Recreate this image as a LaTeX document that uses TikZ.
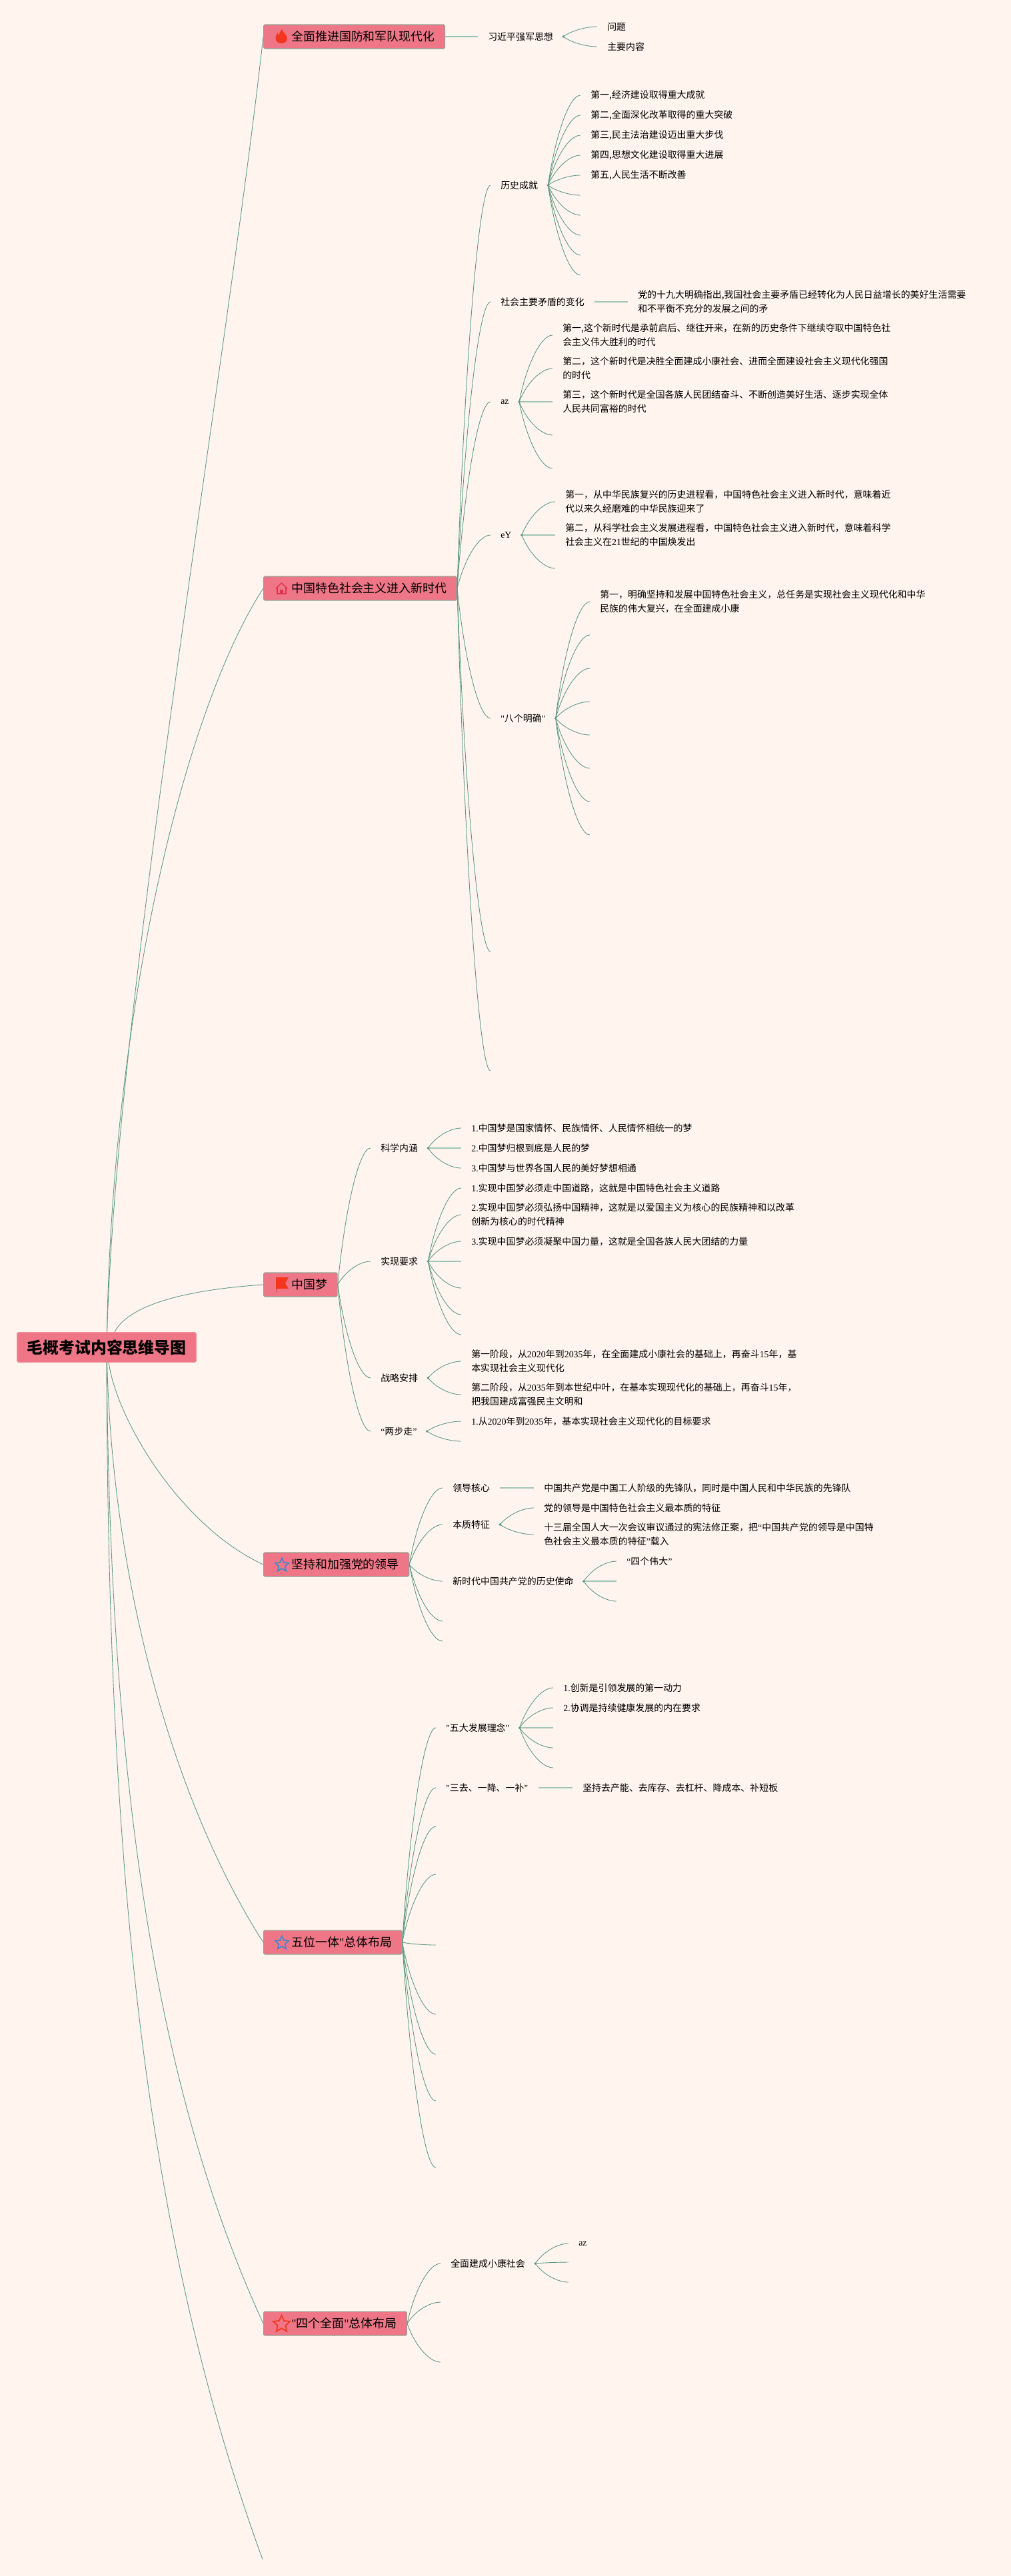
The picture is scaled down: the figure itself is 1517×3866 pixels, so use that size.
\documentclass[tikz,border=0pt]{standalone}
\usepackage{fontspec}
\setmainfont{Noto Sans CJK SC}
\newfontfamily\latfont{Liberation Serif}
\newcommand{\lat}[1]{{\latfont #1}}
\usetikzlibrary{calc, shapes.geometric}
\definecolor{pagebg}{HTML}{FFF4EE}
\definecolor{boxfill}{HTML}{EE7686}
\definecolor{boxline}{HTML}{8FA598}
\definecolor{linkcol}{HTML}{5C9A83}
\definecolor{flatcol}{HTML}{A2C6B6}
\definecolor{iconred}{HTML}{F4361E}
\definecolor{iconrose}{HTML}{E0334F}
\definecolor{iconblue}{HTML}{4A86C8}
\begin{document}
\begin{tikzpicture}[x = 0.02cm, y = -0.02cm,
  rootbox/.style = {draw = boxfill!80!white, line width = 0.6pt, fill = boxfill, rounded corners = 1.5pt, minimum height = 25.5pt, inner xsep = 8.5pt, inner ysep = 0pt, font = \fontsize{13.6}{16}\selectfont\bfseries},
  topic/.style = {draw = boxline, line width = 0.7pt, fill = boxfill, rounded corners = 1pt, anchor = west, minimum height = 20.4pt, inner xsep = 8.5pt, inner ysep = 0pt, font = \fontsize{10.2}{12}\selectfont, execute at begin node = \hspace*{15.3pt}},
  sub/.style = {anchor = west, inner xsep = 8.5pt, inner ysep = 1pt, align = left, font = \fontsize{7.94}{11.9}\selectfont},
  link/.style = {draw = linkcol, line width = 0.5pt, to path = {let \p1 = (\tikztostart), \p2 = (\tikztotarget) in .. controls ({\x1 + 0.22 * (\x2 - \x1)}, {\y1 + 0.55 * (\y2 - \y1)}) and ({\x1 + 0.65 * (\x2 - \x1)}, \y2) .. (\tikztotarget)}},
  flat/.style = {draw = flatcol, line width = 1.6pt},
  hubdot/.style = {fill = linkcol},
  staricon/.style = {star, star points = 5, star point ratio = 2.1, fill = none, inner sep = 0pt, line width = 1pt}]
\fill [pagebg] (0, 0) rectangle (1517, 3866);
\useasboundingbox (0, 0) rectangle (1517, 3866);

\node [rootbox] (root) at (160, 2022) {毛概考试内容思维导图};

\node [topic] (t1) at (395, 55) {全面推进国防和军队现代化};
\node [topic] (t2) at (395, 883) {中国特色社会主义进入新时代};
\node [topic] (t3) at (395, 1928) {中国梦};
\node [topic] (t4) at (395, 2348) {坚持和加强党的领导};
\node [topic] (t5) at (395, 2915) {五位一体\lat{"}总体布局};
\node [topic] (t6) at (395, 3487) {\lat{"}四个全面\lat{"}总体布局};
\coordinate (t7) at (394, 3841);

\draw [draw = linkcol, line width = 0.5pt] (root) .. controls (175, 1500) and (340, 550) .. (t1.west);
\draw [draw = linkcol, line width = 0.5pt] (root) .. controls (170, 1500) and (280, 1060) .. (t2.west);
\draw [draw = linkcol, line width = 0.5pt] (root) .. controls (195, 1955) and (290, 1935) .. (t3.west);
\draw [draw = linkcol, line width = 0.5pt] (root) .. controls (175, 2130) and (270, 2290) .. (t4.west);
\draw [draw = linkcol, line width = 0.5pt] (root) .. controls (170, 2400) and (270, 2720) .. (t5.west);
\draw [draw = linkcol, line width = 0.5pt] (root) .. controls (165, 2700) and (240, 3150) .. (t6.west);
\draw [draw = linkcol, line width = 0.5pt] (root) .. controls (162, 2800) and (215, 3350) .. (t7);

% icons
\fill [color = iconred] (423, 44) .. controls (424, 49) and (431, 52) .. (431, 58) .. controls (431, 62) and (427, 65) .. (422, 65) .. controls (417, 65) and (413.5, 62) .. (413.5, 57) .. controls (413.5, 54) and (415, 51) .. (417, 49) .. controls (417, 52) and (418, 53) .. (419, 53) .. controls (419, 50) and (420, 47) .. (423, 44);
\draw [color = iconrose, line width = 0.8pt] (414, 883) -- (422.5, 875) -- (431, 883);
\draw [color = iconrose, line width = 0.8pt] (416, 881) -- (416, 891) -- (429, 891) -- (429, 881);
\fill [color = iconrose] (420, 885) rectangle (425, 891);
\fill [color = iconred] (414, 1917) -- (433, 1917) -- (428, 1926) -- (433, 1934) -- (414, 1934) -- cycle;
\draw [color = iconred, line width = 0.5pt] (414, 1917) -- (414, 1939);
\node [staricon, draw = iconblue, minimum size = 12pt] (i4) at (423, 2349) {};
\node [staricon, draw = iconblue, minimum size = 12pt] (i5) at (423, 2916) {};
\node [staricon, draw = iconred, minimum size = 15pt] (i6) at (422.5, 3488) {};

% t1
\node [sub] (qiang) at (717, 55) {习近平强军思想};
\node [sub] (wenti) at (896, 40) {问题};
\node [sub] (neirong) at (896, 70) {主要内容};
\draw [flat] (t1.east) -- (qiang.west);
\draw [link] (qiang.east) to (wenti.west);
\draw [link] (qiang.east) to (neirong.west);
\fill [hubdot] (qiang.east) circle (1.1pt);

% t2
\node [sub] (hist) at (736, 278) {历史成就};
\node [sub] (maodun) at (736, 453) {社会主要矛盾的变化};
\node [sub] (az) at (736, 603) {\lat{az}};
\node [sub] (ey) at (736, 803) {\lat{eY}};
\node [sub] (bage) at (736, 1078) {\lat{"}八个明确\lat{"}};
\coordinate (t2g) at (736, 1428);
\coordinate (t2h) at (736, 1607);
\draw [link] (t2.east) to (hist.west);
\draw [link] (t2.east) to (maodun.west);
\draw [link] (t2.east) to (az.west);
\draw [link] (t2.east) to (ey.west);
\draw [link] (t2.east) to (bage.west);
\draw [link] (t2.east) to (t2g);
\draw [link] (t2.east) to (t2h);

\node [sub] (hist1) at (871, 143) {第一,经济建设取得重大成就};
\node [sub] (hist2) at (871, 173) {第二,全面深化改革取得的重大突破};
\node [sub] (hist3) at (871, 203) {第三,民主法治建设迈出重大步伐};
\node [sub] (hist4) at (871, 233) {第四,思想文化建设取得重大进展};
\node [sub] (hist5) at (871, 263) {第五,人民生活不断改善};
\coordinate (hist6) at (871, 293);
\coordinate (hist7) at (871, 323);
\coordinate (hist8) at (871, 353);
\coordinate (hist9) at (871, 383);
\coordinate (hist10) at (871, 413);
\draw [link] (hist.east) to (hist1.west);
\draw [link] (hist.east) to (hist2.west);
\draw [link] (hist.east) to (hist3.west);
\draw [link] (hist.east) to (hist4.west);
\draw [link] (hist.east) to (hist5.west);
\draw [link] (hist.east) to (hist6);
\draw [link] (hist.east) to (hist7);
\draw [link] (hist.east) to (hist8);
\draw [link] (hist.east) to (hist9);
\draw [link] (hist.east) to (hist10);
\fill [hubdot] (hist.east) circle (1.1pt);

\node [sub] (maodun1) at (942, 453) {党的十九大明确指出,我国社会主要矛盾已经转化为人民日益增长的美好生活需要\\和不平衡不充分的发展之间的矛};
\draw [flat] (maodun.east) -- (maodun1.west);

\node [sub] (az1) at (829, 503) {第一,这个新时代是承前启后、继往开来，在新的历史条件下继续夺取中国特色社\\会主义伟大胜利的时代};
\node [sub] (az2) at (829, 553) {第二，这个新时代是决胜全面建成小康社会、进而全面建设社会主义现代化强国\\的时代};
\node [sub] (az3) at (829, 603) {第三，这个新时代是全国各族人民团结奋斗、不断创造美好生活、逐步实现全体\\人民共同富裕的时代};
\coordinate (az4) at (829, 653);
\coordinate (az5) at (829, 703);
\draw [link] (az.east) to (az1.west);
\draw [link] (az.east) to (az2.west);
\draw [flat] (az.east) -- (az3.west);
\draw [link] (az.east) to (az4);
\draw [link] (az.east) to (az5);
\fill [hubdot] (az.east) circle (1.1pt);

\node [sub] (ey1) at (833, 753) {第一，从中华民族复兴的历史进程看，中国特色社会主义进入新时代，意味着近\\代以来久经磨难的中华民族迎来了};
\node [sub] (ey2) at (833, 803) {第二，从科学社会主义发展进程看，中国特色社会主义进入新时代，意味着科学\\社会主义在\lat{21}世纪的中国焕发出};
\coordinate (ey3) at (833, 853);
\draw [link] (ey.east) to (ey1.west);
\draw [flat] (ey.east) -- (ey2.west);
\draw [link] (ey.east) to (ey3);
\fill [hubdot] (ey.east) circle (1.1pt);

\node [sub] (bage1) at (885, 903) {第一，明确坚持和发展中国特色社会主义，总任务是实现社会主义现代化和中华\\民族的伟大复兴，在全面建成小康};
\coordinate (bage2) at (885, 953);
\coordinate (bage3) at (885, 1003);
\coordinate (bage4) at (885, 1053);
\coordinate (bage5) at (885, 1103);
\coordinate (bage6) at (885, 1153);
\coordinate (bage7) at (885, 1203);
\coordinate (bage8) at (885, 1253);
\draw [link] (bage.east) to (bage1.west);
\draw [link] (bage.east) to (bage2);
\draw [link] (bage.east) to (bage3);
\draw [link] (bage.east) to (bage4);
\draw [link] (bage.east) to (bage5);
\draw [link] (bage.east) to (bage6);
\draw [link] (bage.east) to (bage7);
\draw [link] (bage.east) to (bage8);
\fill [hubdot] (bage.east) circle (1.1pt);

% t3
\node [sub] (kexue) at (556, 1723) {科学内涵};
\node [sub] (shixian) at (556, 1893) {实现要求};
\node [sub] (zhanlue) at (556, 2068) {战略安排};
\node [sub] (liangbu) at (556, 2148) {\lat{“}两步走\lat{”}};
\draw [link] (t3.east) to (kexue.west);
\draw [link] (t3.east) to (shixian.west);
\draw [link] (t3.east) to (zhanlue.west);
\draw [link] (t3.east) to (liangbu.west);

\node [sub] (kexue1) at (692, 1693) {\lat{1.}中国梦是国家情怀、民族情怀、人民情怀相统一的梦};
\node [sub] (kexue2) at (692, 1723) {\lat{2.}中国梦归根到底是人民的梦};
\node [sub] (kexue3) at (692, 1753) {\lat{3.}中国梦与世界各国人民的美好梦想相通};
\draw [link] (kexue.east) to (kexue1.west);
\draw [flat] (kexue.east) -- (kexue2.west);
\draw [link] (kexue.east) to (kexue3.west);
\fill [hubdot] (kexue.east) circle (1.1pt);

\node [sub] (shixian1) at (692, 1783) {\lat{1.}实现中国梦必须走中国道路，这就是中国特色社会主义道路};
\node [sub] (shixian2) at (692, 1823) {\lat{2.}实现中国梦必须弘扬中国精神，这就是以爱国主义为核心的民族精神和以改革\\创新为核心的时代精神};
\node [sub] (shixian3) at (692, 1863) {\lat{3.}实现中国梦必须凝聚中国力量，这就是全国各族人民大团结的力量};
\coordinate (shixian4) at (692, 1893);
\coordinate (shixian5) at (692, 1933);
\coordinate (shixian6) at (692, 1973);
\coordinate (shixian7) at (692, 2003);
\draw [link] (shixian.east) to (shixian1.west);
\draw [link] (shixian.east) to (shixian2.west);
\draw [link] (shixian.east) to (shixian3.west);
\draw [flat] (shixian.east) -- (shixian4);
\draw [link] (shixian.east) to (shixian5);
\draw [link] (shixian.east) to (shixian6);
\draw [link] (shixian.east) to (shixian7);
\fill [hubdot] (shixian.east) circle (1.1pt);

\node [sub] (zhanlue1) at (692, 2043) {第一阶段，从\lat{2020}年到\lat{2035}年，在全面建成小康社会的基础上，再奋斗\lat{15}年，基\\本实现社会主义现代化};
\node [sub] (zhanlue2) at (692, 2093) {第二阶段，从\lat{2035}年到本世纪中叶，在基本实现现代化的基础上，再奋斗\lat{15}年，\\把我国建成富强民主文明和};
\draw [link] (zhanlue.east) to (zhanlue1.west);
\draw [link] (zhanlue.east) to (zhanlue2.west);
\fill [hubdot] (zhanlue.east) circle (1.1pt);

\node [sub] (liangbu1) at (692, 2133) {\lat{1.}从\lat{2020}年到\lat{2035}年，基本实现社会主义现代化的目标要求};
\coordinate (liangbu2) at (692, 2163);
\draw [link] (liangbu.east) to (liangbu1.west);
\draw [link] (liangbu.east) to (liangbu2);
\fill [hubdot] (liangbu.east) circle (1.1pt);

% t4
\node [sub] (hexin) at (664, 2233) {领导核心};
\node [sub] (benzhi) at (664, 2288) {本质特征};
\node [sub] (shiming) at (664, 2373) {新时代中国共产党的历史使命};
\coordinate (t4d) at (664, 2433);
\coordinate (t4e) at (664, 2463);
\draw [link] (t4.east) to (hexin.west);
\draw [link] (t4.east) to (benzhi.west);
\draw [link] (t4.east) to (shiming.west);
\draw [link] (t4.east) to (t4d);
\draw [link] (t4.east) to (t4e);

\node [sub] (hexin1) at (801, 2233) {中国共产党是中国工人阶级的先锋队，同时是中国人民和中华民族的先锋队};
\draw [flat] (hexin.east) -- (hexin1.west);

\node [sub] (benzhi1) at (801, 2263) {党的领导是中国特色社会主义最本质的特征};
\node [sub] (benzhi2) at (801, 2303) {十三届全国人大一次会议审议通过的宪法修正案，把\lat{“}中国共产党的领导是中国特\\色社会主义最本质的特征\lat{”}载入};
\draw [link] (benzhi.east) to (benzhi1.west);
\draw [link] (benzhi.east) to (benzhi2.west);
\fill [hubdot] (benzhi.east) circle (1.1pt);

\node [sub] (shiming1) at (925, 2343) {\lat{“}四个伟大\lat{”}};
\coordinate (shiming2) at (925, 2373);
\coordinate (shiming3) at (925, 2403);
\draw [link] (shiming.east) to (shiming1.west);
\draw [flat] (shiming.east) -- (shiming2);
\draw [link] (shiming.east) to (shiming3);
\fill [hubdot] (shiming.east) circle (1.1pt);

% t5
\node [sub] (wuda) at (654, 2593) {\lat{"}五大发展理念\lat{"}};
\node [sub] (sanqu) at (654, 2683) {\lat{"}三去、一降、一补\lat{"}};
\coordinate (t5c) at (654, 2741);
\coordinate (t5d) at (654, 2813);
\coordinate (t5e) at (654, 2919);
\coordinate (t5f) at (654, 3023);
\coordinate (t5g) at (654, 3083);
\coordinate (t5h) at (654, 3153);
\coordinate (t5i) at (654, 3253);
\draw [link] (t5.east) to (wuda.west);
\draw [link] (t5.east) to (sanqu.west);
\draw [link] (t5.east) to (t5c);
\draw [link] (t5.east) to (t5d);
\draw [link] (t5.east) to (t5e);
\draw [link] (t5.east) to (t5f);
\draw [link] (t5.east) to (t5g);
\draw [link] (t5.east) to (t5h);
\draw [link] (t5.east) to (t5i);

\node [sub] (wuda1) at (830, 2533) {\lat{1.}创新是引领发展的第一动力};
\node [sub] (wuda2) at (830, 2563) {\lat{2.}协调是持续健康发展的内在要求};
\coordinate (wuda3) at (830, 2593);
\coordinate (wuda4) at (830, 2623);
\coordinate (wuda5) at (830, 2653);
\draw [link] (wuda.east) to (wuda1.west);
\draw [link] (wuda.east) to (wuda2.west);
\draw [flat] (wuda.east) -- (wuda3);
\draw [link] (wuda.east) to (wuda4);
\draw [link] (wuda.east) to (wuda5);
\fill [hubdot] (wuda.east) circle (1.1pt);

\node [sub] (sanqu1) at (859, 2683) {坚持去产能、去库存、去杠杆、降成本、补短板};
\draw [flat] (sanqu.east) -- (sanqu1.west);

% t6
\node [sub] (xiaokang) at (661, 3397) {全面建成小康社会};
\coordinate (t6b) at (661, 3455);
\coordinate (t6c) at (661, 3545);
\draw [link] (t6.east) to (xiaokang.west);
\draw [link] (t6.east) to (t6b);
\draw [link] (t6.east) to (t6c);

\node [sub] (xiaokang1) at (853, 3367) {\lat{az}};
\coordinate (xiaokang2) at (853, 3395);
\coordinate (xiaokang3) at (853, 3425);
\draw [link] (xiaokang.east) to (xiaokang1.west);
\draw [link] (xiaokang.east) to (xiaokang2);
\draw [link] (xiaokang.east) to (xiaokang3);
\fill [hubdot] (xiaokang.east) circle (1.1pt);
\end{tikzpicture}
\end{document}
